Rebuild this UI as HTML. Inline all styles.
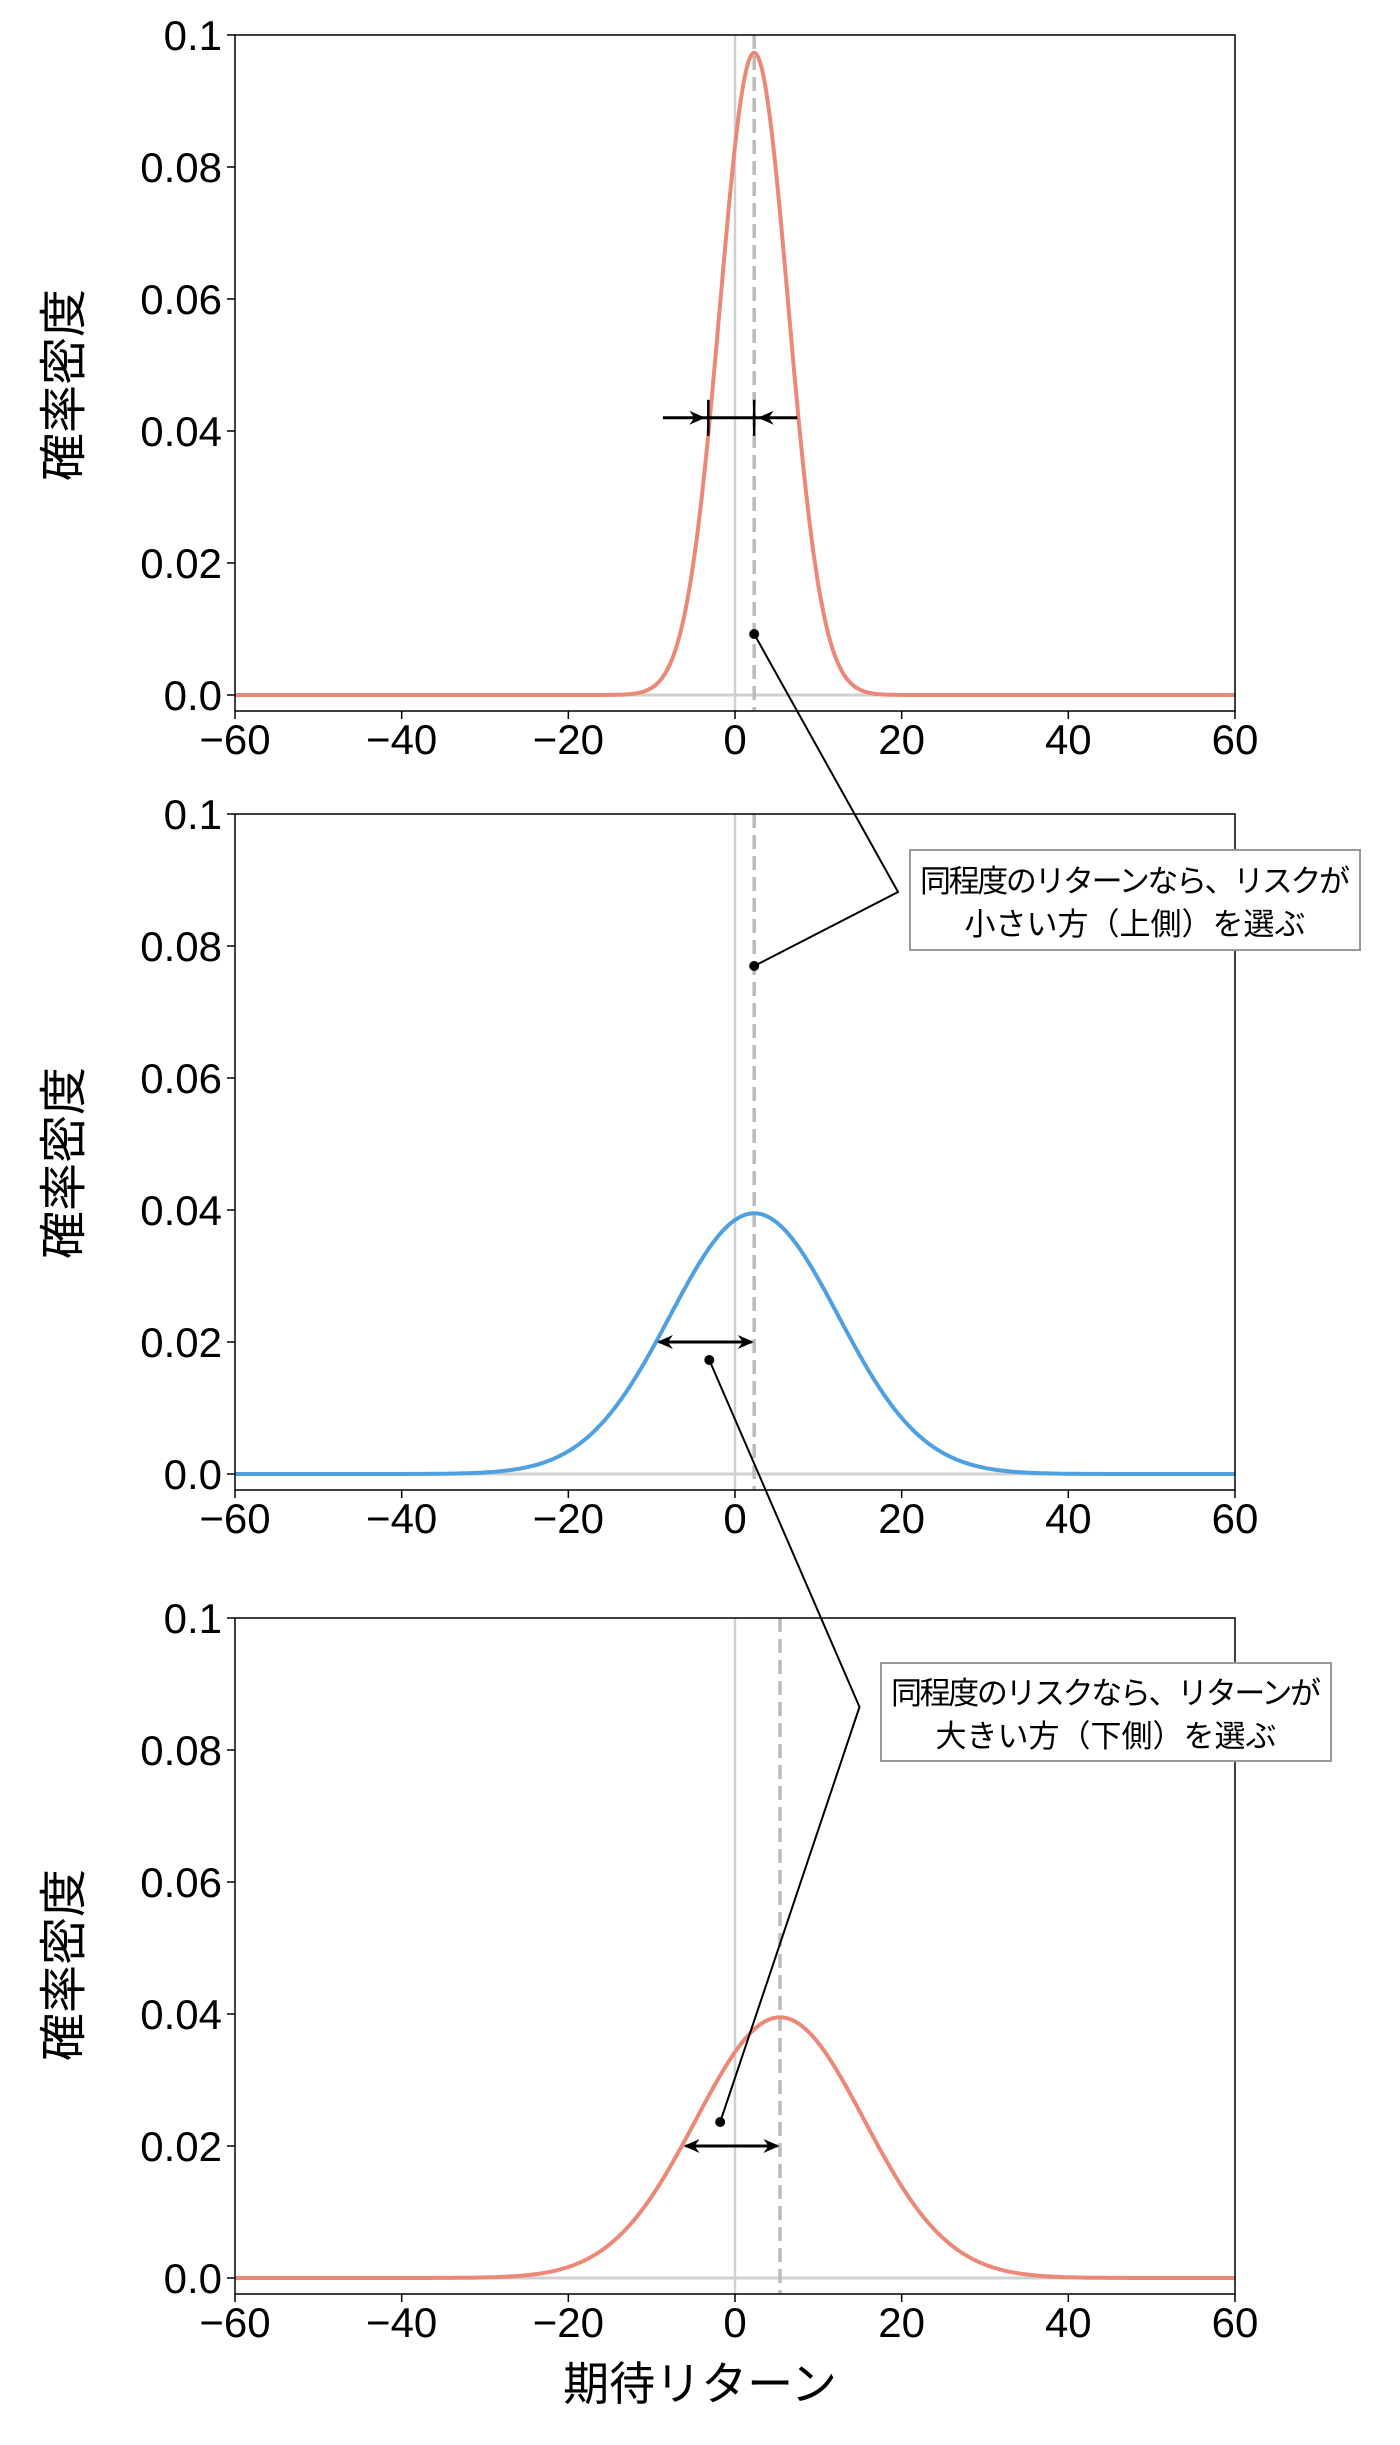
<!DOCTYPE html>
<html><head><meta charset="utf-8"><style>
body{margin:0;background:#fff;}
svg text{font-family:"Liberation Sans","Noto Sans CJK JP",sans-serif;fill:#000;}
</style></head><body>
<svg id="s" width="1400" height="2440" xmlns="http://www.w3.org/2000/svg"></svg>
<script>
const s=document.getElementById('s');let h='';
const X=v=>735+v*8.333;
const T=p=>735+(p-743)/8.433*8.333;
const H=660;
const panels=[{top:35,mu:2.3,sd:4.1,c:'#ec8878'},{top:814,mu:2.3,sd:10.1,c:'#4ea0e0'},{top:1618,mu:5.4,sd:10.1,c:'#ec8878'}];
panels.forEach((p,i)=>{
 const Y=v=>p.top+(0.1-v)*H*10, bot=p.top+H+16;
 h+=`<line x1="${X(0)}" y1="${p.top}" x2="${X(0)}" y2="${bot}" stroke="#d0d0d0" stroke-width="2.5"/>`;
 h+=`<line x1="235" y1="${Y(0)}" x2="1235" y2="${Y(0)}" stroke="#d0d0d0" stroke-width="3"/>`;
 h+=`<line x1="${X(p.mu)}" y1="${p.top}" x2="${X(p.mu)}" y2="${bot}" stroke="#bbb" stroke-width="3.5" stroke-dasharray="14,7"/>`;
 let d='';for(let k=0;k<=600;k++){const v=-60+k*0.2;const y=Math.exp(-0.5*((v-p.mu)/p.sd)**2)/(p.sd*2.5066);d+=(k?'L':'M')+X(v).toFixed(1)+','+Y(y).toFixed(1);}
 h+=`<path d="${d}" fill="none" stroke="${p.c}" stroke-width="4"/>`;
 h+=`<rect x="235" y="${p.top}" width="1000" height="${H+16}" fill="none" stroke="#000" stroke-width="1.5"/>`;
 [-60,-40,-20,0,20,40,60].forEach(v=>{h+=`<line x1="${X(v)}" y1="${bot}" x2="${X(v)}" y2="${bot+8}" stroke="#000" stroke-width="1.5"/><text x="${X(v)}" y="${bot+43}" font-size="42" text-anchor="middle">${v<0?'−'+(-v):v}</text>`;});
 ['0.0','0.02','0.04','0.06','0.08','0.1'].forEach((t,j)=>{const y=Y(j*0.02);h+=`<line x1="227" y1="${y}" x2="235" y2="${y}" stroke="#000" stroke-width="1.5"/><text x="222" y="${y+15}" font-size="42" text-anchor="end">${t}</text>`;});
 const cy=[385,1163,1965][i];
 h+=`<text transform="translate(80,${cy}) rotate(-90)" font-size="48" text-anchor="middle">確率密度</text>`;
});
function head(x,y,dir){return `<path d="M${x},${y} L${x-dir*16},${y-7} L${x-dir*11},${y} L${x-dir*16},${y+7}Z" fill="#000"/>`;}
let y1=35+(0.1-0.042)*H*10;
h+=`<line x1="${T(670)}" y1="${y1}" x2="${T(806)}" y2="${y1}" stroke="#000" stroke-width="3"/>`;
h+=head(T(713),y1,1)+head(T(766),y1,-1);
h+=`<line x1="${T(716)}" y1="${y1-18}" x2="${T(716)}" y2="${y1+18}" stroke="#000" stroke-width="2.5"/><line x1="${X(2.3)}" y1="${y1-18}" x2="${X(2.3)}" y2="${y1+18}" stroke="#000" stroke-width="2.5"/>`;
let y2=814+(0.1-0.02)*H*10;
h+=`<line x1="${T(666)}" y1="${y2}" x2="${T(760)}" y2="${y2}" stroke="#000" stroke-width="3"/>`+head(T(664),y2,-1)+head(T(762),y2,1);
let y3=1618+(0.1-0.02)*H*10;
h+=`<line x1="${T(693)}" y1="${y3}" x2="${T(786)}" y2="${y3}" stroke="#000" stroke-width="3"/>`+head(T(691),y3,-1)+head(T(788),y3,1);
h+=`<polyline points="${X(2.3)},634 ${T(908)},892 ${X(2.3)},966" fill="none" stroke="#000" stroke-width="2"/><circle cx="${X(2.3)}" cy="634" r="5"/><circle cx="${X(2.3)}" cy="966" r="5"/>`;
h+=`<polyline points="${T(717)},1360 ${T(869)},1707 ${T(728)},2122" fill="none" stroke="#000" stroke-width="2"/><circle cx="${T(717)}" cy="1360" r="5"/><circle cx="${T(728)}" cy="2122" r="5"/>`;
h+=`<rect x="910" y="850" width="450" height="100" fill="#fff" stroke="#999" stroke-width="2"/>`;
h+=`<text x="1135" y="892" font-size="31" text-anchor="middle" textLength="430">同程度のリターンなら、リスクが</text><text x="1135" y="935" font-size="31" text-anchor="middle">小さい方（上側）を選ぶ</text>`;
h+=`<rect x="881" y="1663" width="450" height="98" fill="#fff" stroke="#999" stroke-width="2"/>`;
h+=`<text x="1106" y="1704" font-size="31" text-anchor="middle" textLength="430">同程度のリスクなら、リターンが</text><text x="1106" y="1747" font-size="31" text-anchor="middle">大きい方（下側）を選ぶ</text>`;
h+=`<text x="700" y="2400" font-size="46" text-anchor="middle">期待リターン</text>`;
s.innerHTML=h;
</script>
</body></html>
